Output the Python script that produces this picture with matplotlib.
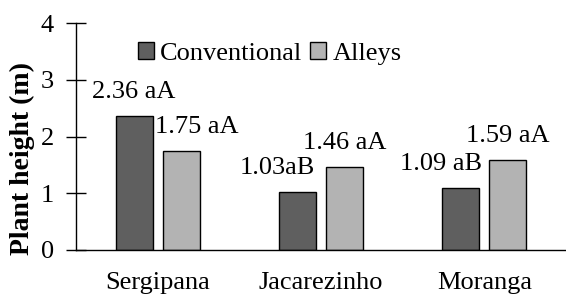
import matplotlib
matplotlib.use("Agg")
import matplotlib.pyplot as plt
import numpy as np

categories = ["Sergipana", "Jacarezinho", "Moranga"]
conventional = [2.36, 1.03, 1.09]
alleys = [1.75, 1.46, 1.59]
conv_labels = ["2.36 aA", "1.03aB", "1.09 aB"]
alley_labels = ["1.75 aA", "1.46 aA", "1.59 aA"]
series_names = ["Conventional", "Alleys"]

plt.rcParams['font.family'] = ['Liberation Serif', 'DejaVu Serif']
FS = 19
fig = plt.figure(figsize=(5.66, 2.95), dpi=100)
ax = fig.add_axes([76/566, 1-250/295, 1-76/566, (250-23)/295])

x = np.arange(len(categories))
w = 0.227
off = 0.144
ax.bar(x - off, conventional, w, color="#5f5f5f", edgecolor="black", linewidth=1.0, label=series_names[0])
ax.bar(x + off, alleys, w, color="#b3b3b3", edgecolor="black", linewidth=1.0, label=series_names[1])

conv_dx = [0, -20, -20]
alley_dx = [16, 0, 0]
for i in range(len(categories)):
    ax.annotate(conv_labels[i], (x[i] - off, conventional[i]), xytext=(conv_dx[i], 24),
                textcoords="offset pixels", ha="center", va="center", fontsize=FS)
    ax.annotate(alley_labels[i], (x[i] + off, alleys[i]), xytext=(alley_dx[i], 24),
                textcoords="offset pixels", ha="center", va="center", fontsize=FS)

ax.set_xlim(-0.5, 2.5)
ax.set_ylim(0, 4)
ax.set_yticks([0, 1, 2, 3, 4])
ax.set_xticks(x)
ax.set_xticklabels(categories, fontsize=FS)
ax.tick_params(axis="x", length=0, pad=16)
ax.tick_params(axis="y", direction="inout", length=14, width=1, labelsize=FS, pad=9)
for s in ["top", "right"]:
    ax.spines[s].set_visible(False)
ax.spines["left"].set_linewidth(1)
ax.spines["bottom"].set_linewidth(1)
ax.set_ylabel("Plant height (m)", fontsize=20, fontweight="bold")
ax.yaxis.set_label_coords(-0.084, 0.405)

leg = ax.legend(loc="upper left", bbox_to_anchor=(0.126, 0.915), ncol=2, frameon=False,
                fontsize=FS, handlelength=0.6, handleheight=0.6, handletextpad=0.25,
                columnspacing=0.3, borderaxespad=0, borderpad=0)

fig.savefig("out.png", dpi=100)
